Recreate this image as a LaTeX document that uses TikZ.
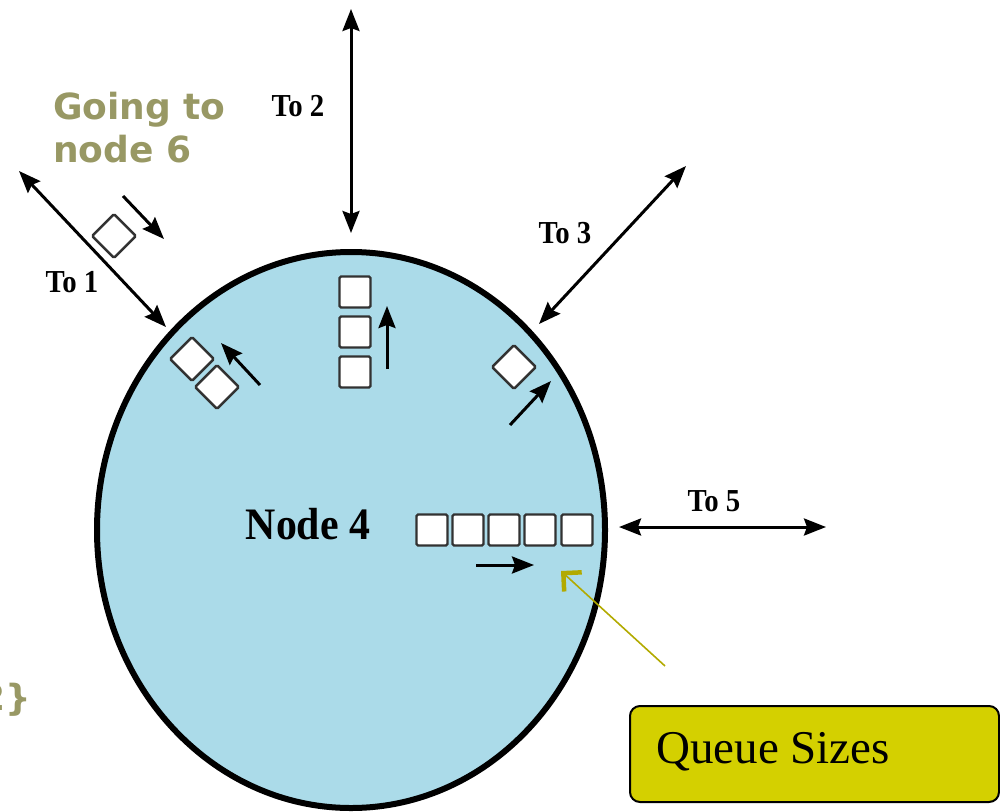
\documentclass[tikz,border=0pt]{standalone}
\usepackage{fontspec}
\setmainfont{Liberation Serif}
\newfontfamily\olivefont{DejaVu Sans}
\usetikzlibrary{shapes.geometric,arrows.meta}
\definecolor{nodeblue}{RGB}{171,219,233}
\definecolor{olivetext}{RGB}{152,152,100}
\definecolor{calloutfill}{RGB}{212,208,0}
\definecolor{calloutline}{RGB}{178,170,0}
\definecolor{boxedge}{RGB}{50,50,50}
\tikzset{
  tip/.tip={Stealth[length=22pt,width=17pt,inset=3pt]},
  link/.style={line width=3pt,tip-tip},
  flow/.style={line width=3pt,-tip},
  pkt/.style={draw=boxedge,fill=white,line width=2.4pt,minimum size=31pt,inner sep=0pt,rounded corners=1.5pt},
  dpkt/.style={pkt,rotate=45},
  tolabel/.style={font=\fontsize{32}{32}\selectfont\bfseries,inner sep=0pt,xscale=0.9},
  olive/.style={font=\olivefont\fontsize{36}{43}\selectfont\bfseries,text=olivetext,inner sep=0pt}
}
\begin{document}
\begin{tikzpicture}[x=1pt,y=-1pt]
\useasboundingbox (0,0) rectangle (1000,811);
% main node
\node[ellipse,draw=black,fill=nodeblue,line width=6pt,minimum width=508pt,minimum height=556pt,inner sep=0pt] (n4) at (351,530) {};
\node[font=\fontsize{45}{45}\selectfont\bfseries,inner sep=0pt,xscale=0.93] (n4lab) at (308,524) {Node 4};
% links
\coordinate (t2a) at (351,9);
\coordinate (t2b) at (351,233);
\draw[link] (t2a) -- (t2b);
\node[tolabel] (l2) at (298,106) {To 2};
\coordinate (t1a) at (19,171);
\coordinate (t1b) at (166,327);
\draw[link] (t1a) -- (t1b);
\node[tolabel] (l1) at (72,282) {To 1};
\coordinate (t3a) at (686,166);
\coordinate (t3b) at (539,324);
\draw[link] (t3a) -- (t3b);
\node[tolabel] (l3) at (565,233) {To 3};
\coordinate (t5a) at (619,527);
\coordinate (t5b) at (826,527);
\draw[link] (t5a) -- (t5b);
\node[tolabel] (l5) at (714,501) {To 5};
% outgoing packet toward node 1
\node[dpkt] (p0) at (114,236) {};
\coordinate (f0a) at (123,196);
\coordinate (f0b) at (164,239);
\draw[flow] (f0a) -- (f0b);
% queue to 1
\node[dpkt] (q1a) at (192,359) {};
\node[dpkt] (q1b) at (217,387) {};
\coordinate (f1a) at (260,385);
\coordinate (f1b) at (221,343);
\draw[flow] (f1a) -- (f1b);
% queue to 2
\node[pkt] (q2a) at (355,292) {};
\node[pkt] (q2b) at (355,332) {};
\node[pkt] (q2c) at (355,372) {};
\coordinate (f2a) at (387,369);
\coordinate (f2b) at (387,306);
\draw[flow] (f2a) -- (f2b);
% queue to 3
\node[dpkt] (q3a) at (514,367) {};
\coordinate (f3a) at (510,425);
\coordinate (f3b) at (551,381);
\draw[flow] (f3a) -- (f3b);
% queue to 5
\node[pkt] (q5a) at (432,530) {};
\node[pkt] (q5b) at (468,530) {};
\node[pkt] (q5c) at (504,530) {};
\node[pkt] (q5d) at (540,530) {};
\node[pkt] (q5e) at (577,530) {};
\coordinate (f5a) at (476,565);
\coordinate (f5b) at (534,565);
\draw[flow] (f5a) -- (f5b);
% callout
\node[draw=black,fill=calloutfill,line width=2pt,rounded corners=10pt,minimum width=369pt,minimum height=96pt,inner sep=0pt] (qs) at (814.5,754) {};
\node[font=\fontsize{47}{47}\selectfont,anchor=west,inner sep=0pt] (qstext) at (656,752) {Queue Sizes};
\coordinate (cq) at (665,666);
\coordinate (cp) at (561,571);
\draw[calloutline,line width=1.6pt,-{Straight Barb[length=13pt,width=26pt,line width=4.5pt]}] (cq) -- (cp);
% olive texts
\node[olive,anchor=north west,align=left] (going) at (53,92) {Going to\\node 6};
\node[olive,anchor=east] (frag) at (31,700) {2\}};
\end{tikzpicture}
\end{document}
